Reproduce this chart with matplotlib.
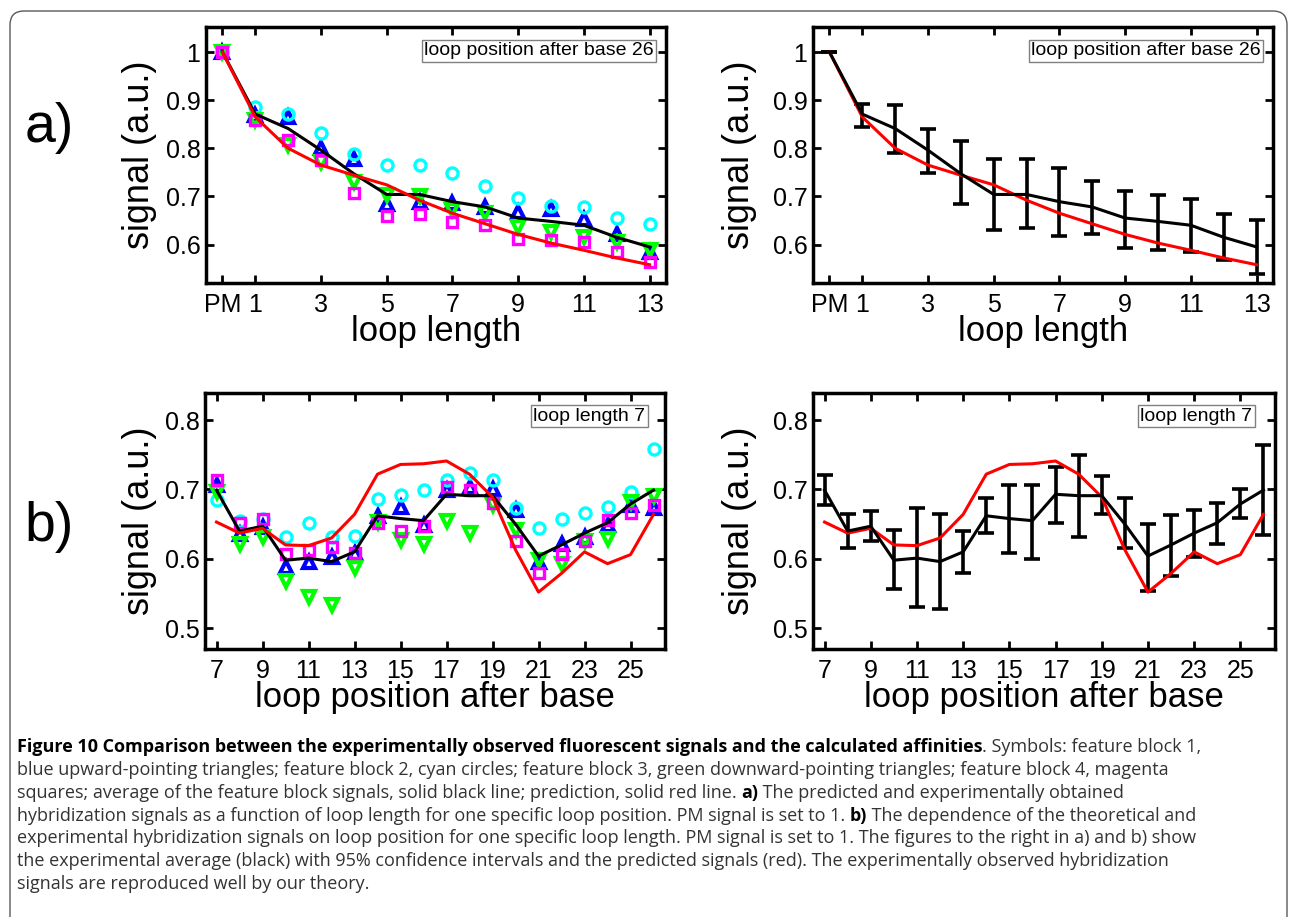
import matplotlib
matplotlib.use("Agg")
import matplotlib.pyplot as plt
from matplotlib import font_manager
from matplotlib.patches import FancyBboxPatch
from matplotlib.transforms import IdentityTransform

plt.rcParams['font.family'] = ['Liberation Sans', 'DejaVu Sans']

# ---- a) signal vs loop length (loop position after base 26) ----
len_x = list(range(14))
len_ticks = [0, 1, 3, 5, 7, 9, 11, 13]
len_ticklabels = ['PM', '1', '3', '5', '7', '9', '11', '13']
len_block1 = [1.0, 0.869, 0.864, 0.800, 0.778, 0.685, 0.688, 0.686, 0.678, 0.667, 0.674, 0.653, 0.621, 0.584]
len_block2 = [1.0, 0.886, 0.871, 0.832, 0.788, 0.765, 0.766, 0.749, 0.721, 0.697, 0.681, 0.678, 0.656, 0.642]
len_block3 = [1.0, 0.858, 0.806, 0.772, 0.730, 0.702, 0.701, 0.671, 0.666, 0.636, 0.626, 0.615, 0.605, 0.588]
len_block4 = [1.0, 0.858, 0.818, 0.776, 0.706, 0.660, 0.664, 0.647, 0.640, 0.612, 0.610, 0.605, 0.584, 0.563]
len_avg = [1.0, 0.871, 0.841, 0.796, 0.747, 0.704, 0.704, 0.689, 0.678, 0.655, 0.648, 0.640, 0.615, 0.595]
len_pred = [1.0, 0.865, 0.800, 0.765, 0.744, 0.724, 0.692, 0.665, 0.643, 0.621, 0.603, 0.588, 0.572, 0.558]
len_ci_low = [1.0, 0.844, 0.790, 0.749, 0.685, 0.631, 0.634, 0.617, 0.622, 0.592, 0.589, 0.584, 0.567, 0.539]
len_ci_high = [1.0, 0.893, 0.889, 0.839, 0.815, 0.777, 0.777, 0.759, 0.731, 0.712, 0.703, 0.694, 0.664, 0.650]

# ---- b) signal vs loop position (loop length 7) ----
pos_x = list(range(7, 27))
pos_ticks = [7, 9, 11, 13, 15, 17, 19, 21, 23, 25]
pos_block1 = [0.706, 0.636, 0.646, 0.588, 0.596, 0.603, 0.609, 0.661, 0.674, 0.649,
              0.699, 0.704, 0.700, 0.670, 0.596, 0.622, 0.632, 0.649, 0.677, 0.673]
pos_block2 = [0.685, 0.654, 0.658, 0.632, 0.652, 0.631, 0.633, 0.686, 0.692, 0.699,
              0.714, 0.723, 0.713, 0.673, 0.645, 0.657, 0.666, 0.675, 0.696, 0.758]
pos_block3 = [0.697, 0.621, 0.632, 0.568, 0.545, 0.534, 0.587, 0.653, 0.627, 0.621,
              0.655, 0.637, 0.677, 0.641, 0.598, 0.593, 0.625, 0.629, 0.682, 0.690]
pos_block4 = [0.713, 0.651, 0.658, 0.607, 0.612, 0.617, 0.609, 0.652, 0.640, 0.647,
              0.703, 0.699, 0.680, 0.625, 0.580, 0.607, 0.625, 0.656, 0.666, 0.678]
pos_avg = [0.699, 0.640, 0.647, 0.598, 0.601, 0.596, 0.610, 0.662, 0.658, 0.655,
           0.693, 0.691, 0.691, 0.650, 0.604, 0.620, 0.637, 0.652, 0.679, 0.699]
pos_pred = [0.653, 0.637, 0.644, 0.620, 0.619, 0.630, 0.664, 0.722, 0.736, 0.737,
            0.741, 0.722, 0.689, 0.613, 0.552, 0.579, 0.610, 0.593, 0.606, 0.664]
pos_ci_low = [0.678, 0.615, 0.626, 0.556, 0.530, 0.527, 0.580, 0.637, 0.609, 0.600,
              0.652, 0.632, 0.665, 0.615, 0.553, 0.575, 0.602, 0.622, 0.659, 0.634]
pos_ci_high = [0.721, 0.664, 0.669, 0.641, 0.673, 0.664, 0.640, 0.687, 0.706, 0.706,
               0.733, 0.750, 0.719, 0.687, 0.650, 0.663, 0.670, 0.681, 0.700, 0.764]

caption_lines = [
    [("Figure 10 Comparison between the experimentally observed fluorescent signals and the calculated affinities", True),
     (". Symbols: feature block 1,", False)],
    [("blue upward-pointing triangles; feature block 2, cyan circles; feature block 3, green downward-pointing triangles; feature block 4, magenta", False)],
    [("squares; average of the feature block signals, solid black line; prediction, solid red line. ", False),
     ("a)", True), (" The predicted and experimentally obtained", False)],
    [("hybridization signals as a function of loop length for one specific loop position. PM signal is set to 1. ", False),
     ("b)", True), (" The dependence of the theoretical and", False)],
    [("experimental hybridization signals on loop position for one specific loop length. PM signal is set to 1. The figures to the right in a) and b) show", False)],
    [("the experimental average (black) with 95% confidence intervals and the predicted signals (red). The experimentally observed hybridization", False)],
    [("signals are reproduced well by our theory.", False)],
]

W, H = 1290, 917
fig = plt.figure(figsize=(W / 100, H / 100), dpi=100)
fig.patch.set_facecolor('white')


def px_axes(x0, x1, y0, y1):
    return fig.add_axes([x0 / W, 1 - y1 / H, (x1 - x0) / W, (y1 - y0) / H])


def style(ax, xlim, ylim, xticks, xlabels, yticks, ylabels, xlabel):
    ax.set_xlim(xlim)
    ax.set_ylim(ylim)
    ax.set_xticks(xticks)
    ax.set_xticklabels(xlabels)
    ax.set_yticks(yticks)
    ax.set_yticklabels(ylabels)
    ax.tick_params(direction='in', top=True, right=True, length=6, width=2,
                   labelsize=18, colors='black')
    ax.tick_params(axis='x', pad=7)
    ax.tick_params(axis='y', pad=4)
    for s in ax.spines.values():
        s.set_linewidth(2.5)
    ax.set_xlabel(xlabel, fontsize=25)
    ax.xaxis.set_label_coords(0.5, -0.125)
    ax.set_ylabel('signal (a.u.)', fontsize=26)


def box_label(ax, x, y, s):
    ax.text(x, y, s, transform=ax.transAxes, ha='right', va='top', fontsize=14,
            bbox=dict(boxstyle='square,pad=0.12', fc='white', ec='0.5', lw=1), zorder=10)


def scatter_blocks(ax, x, b1, b2, b3, b4):
    kw = dict(ls='none', mfc='none')
    ax.plot(x, b1, marker='^', color='#0000ff', ms=9, mew=3, **kw)
    ax.plot(x, b2, marker='o', color='#00ffff', ms=8, mew=2.4, **kw)
    ax.plot(x, b3, marker='v', color='#00ff00', ms=9, mew=3, **kw)
    ax.plot(x, b4, marker='s', color='#ff00ff', ms=7.5, mew=2.4, **kw)


def ci(avg, lo, hi):
    return [[a - l for a, l in zip(avg, lo)], [h - a for a, h in zip(avg, hi)]]


ylab_a = ['0.6', '0.7', '0.8', '0.9', '1']
yt_a = [0.6, 0.7, 0.8, 0.9, 1.0]
yt_b = [0.5, 0.6, 0.7, 0.8]
ylab_b = ['0.5', '0.6', '0.7', '0.8']

# top left
ax1 = px_axes(206, 666, 27, 283)
scatter_blocks(ax1, len_x, len_block1, len_block2, len_block3, len_block4)
ax1.plot(len_x, len_avg, color='black', lw=2.2)
ax1.plot(len_x, len_pred, color='red', lw=2.2)
style(ax1, (-0.5, 13.5), (0.52, 1.052), len_ticks, len_ticklabels, yt_a, ylab_a, 'loop length')
ax1.yaxis.set_label_coords(-0.107, 0.5)
box_label(ax1, 0.974, 0.94, 'loop position after base 26')

# top right
ax2 = px_axes(813, 1273, 27, 283)
ax2.errorbar(len_x, len_avg, yerr=ci(len_avg, len_ci_low, len_ci_high), color='black',
             lw=2.2, elinewidth=2.6, capsize=6, capthick=2.6)
ax2.plot(len_x, len_pred, color='red', lw=2.2)
style(ax2, (-0.5, 13.5), (0.52, 1.052), len_ticks, len_ticklabels, yt_a, ylab_a, 'loop length')
ax2.yaxis.set_label_coords(-0.122, 0.5)
box_label(ax2, 0.974, 0.94, 'loop position after base 26')

# bottom left
ax3 = px_axes(205, 665, 393, 649)
scatter_blocks(ax3, pos_x, pos_block1, pos_block2, pos_block3, pos_block4)
ax3.plot(pos_x, pos_avg, color='black', lw=2.2)
ax3.plot(pos_x, pos_pred, color='red', lw=2.2)
style(ax3, (6.5, 26.5), (0.47, 0.839), pos_ticks, [str(t) for t in pos_ticks], yt_b, ylab_b,
      'loop position after base')
ax3.yaxis.set_label_coords(-0.105, 0.5)
box_label(ax3, 0.957, 0.943, 'loop length 7')

# bottom right
ax4 = px_axes(813, 1275, 393, 649)
ax4.errorbar(pos_x, pos_avg, yerr=ci(pos_avg, pos_ci_low, pos_ci_high), color='black',
             lw=2.2, elinewidth=2.6, capsize=6, capthick=2.6)
ax4.plot(pos_x, pos_pred, color='red', lw=2.2)
style(ax4, (6.5, 26.5), (0.47, 0.839), pos_ticks, [str(t) for t in pos_ticks], yt_b, ylab_b,
      'loop position after base')
ax4.yaxis.set_label_coords(-0.122, 0.5)
box_label(ax4, 0.951, 0.943, 'loop length 7')

# panel letters
fig.text(49 / W, 1 - 128 / H, 'a)', fontsize=40, ha='center', va='center')
fig.text(49 / W, 1 - 527 / H, 'b)', fontsize=40, ha='center', va='center')

# rounded frame around the figure
frame = FancyBboxPatch((10, -30), 1277, 936, boxstyle='round,pad=0,rounding_size=14',
                       transform=IdentityTransform(), fill=False, ec='0.35', lw=1.0)
fig.add_artist(frame)

# caption font: try the available widths and keep the one closest to the reference
renderer = fig.canvas.get_renderer()
cands = set()
for f in font_manager.fontManager.ttflist:
    if f.name in ('Open Sans', 'Noto Sans', 'Liberation Sans Narrow', 'Roboto', 'Lato', 'Liberation Sans'):
        cands.add((f.name, str(f.stretch)))
target_w = 1150
best = None
for fam, st in sorted(cands):
    try:
        probe = fig.text(0, 0, caption_lines[1][0][0], fontsize=13, family=fam, stretch=st,
                         transform=IdentityTransform())
        w = probe.get_window_extent(renderer=renderer).width
        probe.remove()
    except Exception:
        continue
    score = abs(w - target_w)
    if best is None or score < best[0]:
        best = (score, fam, st, w)
cap_family, cap_stretch, wprobe = best[1], best[2], best[3]
cap_size = min(15.0, max(11.0, 13 * target_w / wprobe))

y_base = H - 752
for i, line in enumerate(caption_lines):
    x = 17
    y = y_base - i * 22.85
    for text, bold in line:
        t = fig.text(x, y, text, fontsize=cap_size, family=cap_family, stretch=cap_stretch,
                     weight='bold' if bold else 'normal', color='black' if bold else '0.2',
                     ha='left', va='baseline', transform=IdentityTransform())
        x = t.get_window_extent(renderer=renderer).x1

fig.savefig('out.png', dpi=100)
